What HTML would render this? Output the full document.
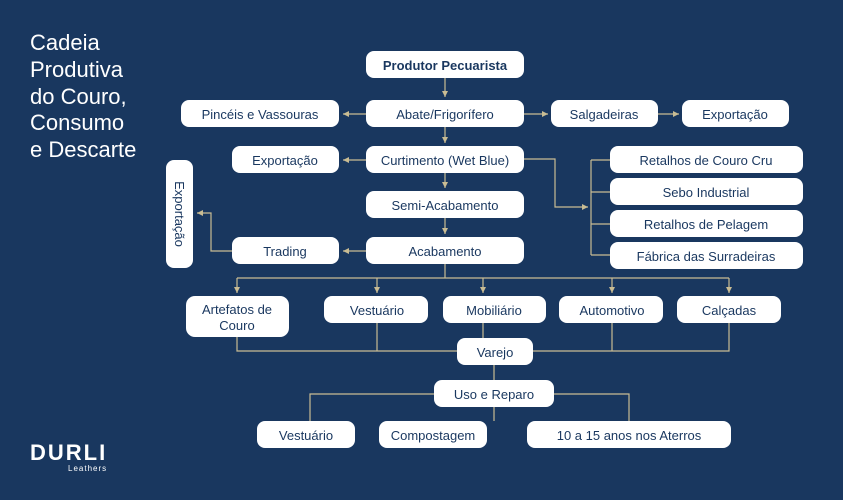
<!DOCTYPE html>
<html><head><meta charset="utf-8"><style>
body{margin:0;width:843px;height:500px;background:#19375f;overflow:hidden}
svg{display:block}
text{font-family:"Liberation Sans",sans-serif;font-size:13px;fill:#19375f;text-anchor:middle}
.t{fill:#fff;text-anchor:start;font-size:22px}
rect{fill:#fff}
.l{stroke:#c9bc93;stroke-width:1.2;fill:none}
</style></head><body>
<svg width="843" height="500" viewBox="0 0 843 500">
<defs><marker id="a" markerWidth="6" markerHeight="6" refX="5" refY="3" orient="auto"><path d="M0,0.5 L5,3 L0,5.5z" fill="#c9bc93"/></marker></defs>
<text class="t" x="30" y="50">Cadeia</text>
<text class="t" x="30" y="77">Produtiva</text>
<text class="t" x="30" y="104">do Couro,</text>
<text class="t" x="30" y="130">Consumo</text>
<text class="t" x="30" y="157">e Descarte</text>
<text x="30" y="460" style="fill:#fff;font-size:22px;font-weight:bold;text-anchor:start;letter-spacing:2px">DURLI</text>
<text x="68" y="471" style="fill:#fff;font-size:8px;text-anchor:start;letter-spacing:1px">Leathers</text>
<g class="l">
<path d="M445 78V97" marker-end="url(#a)"/>
<path d="M366 114H343" marker-end="url(#a)"/>
<path d="M524 114H548" marker-end="url(#a)"/>
<path d="M658 114H679" marker-end="url(#a)"/>
<path d="M445 127V143" marker-end="url(#a)"/>
<path d="M366 160H343" marker-end="url(#a)"/>
<path d="M445 173V188" marker-end="url(#a)"/>
<path d="M524 159H555V207H588" marker-end="url(#a)"/>
<path d="M591 160V255M591 160H610M591 192H610M591 224H610M591 255H610"/>
<path d="M445 218V234" marker-end="url(#a)"/>
<path d="M366 251H343" marker-end="url(#a)"/>
<path d="M232 251H211V213H197" marker-end="url(#a)"/>
<path d="M445 264V278M237 278H729"/>
<path d="M237 278V293" marker-end="url(#a)"/>
<path d="M377 278V293" marker-end="url(#a)"/>
<path d="M483 278V293" marker-end="url(#a)"/>
<path d="M612 278V293" marker-end="url(#a)"/>
<path d="M729 278V293" marker-end="url(#a)"/>
<path d="M237 337V351H729V323M377 323V351M483 323V338M612 323V351"/>
<path d="M494 365V380"/>
<path d="M310 421V394H629V421M494 407V421"/>
</g>
<rect x="366" y="51" width="158" height="27" rx="8"/><text x="445" y="70" font-weight="bold">Produtor Pecuarista</text>
<rect x="181" y="100" width="158" height="27" rx="8"/><text x="260" y="119">Pincéis e Vassouras</text>
<rect x="366" y="100" width="158" height="27" rx="8"/><text x="445" y="119">Abate/Frigorífero</text>
<rect x="551" y="100" width="107" height="27" rx="8"/><text x="604" y="119">Salgadeiras</text>
<rect x="682" y="100" width="107" height="27" rx="8"/><text x="735" y="119">Exportação</text>
<rect x="232" y="146" width="107" height="27" rx="8"/><text x="285" y="165">Exportação</text>
<rect x="366" y="146" width="158" height="27" rx="8"/><text x="445" y="165">Curtimento (Wet Blue)</text>
<rect x="166" y="160" width="27" height="108" rx="8"/><text transform="translate(175,214) rotate(90)" x="0" y="0">Exportação</text>
<rect x="366" y="191" width="158" height="27" rx="8"/><text x="445" y="210">Semi-Acabamento</text>
<rect x="232" y="237" width="107" height="27" rx="8"/><text x="285" y="256">Trading</text>
<rect x="366" y="237" width="158" height="27" rx="8"/><text x="445" y="256">Acabamento</text>
<rect x="610" y="146" width="193" height="27" rx="8"/><text x="706" y="165">Retalhos de Couro Cru</text>
<rect x="610" y="178" width="193" height="27" rx="8"/><text x="706" y="197">Sebo Industrial</text>
<rect x="610" y="210" width="193" height="27" rx="8"/><text x="706" y="229">Retalhos de Pelagem</text>
<rect x="610" y="242" width="193" height="27" rx="8"/><text x="706" y="261">Fábrica das Surradeiras</text>
<rect x="186" y="296" width="103" height="41" rx="9"/><text x="237" y="314">Artefatos de</text><text x="237" y="330">Couro</text>
<rect x="324" y="296" width="104" height="27" rx="8"/><text x="377" y="315">Vestuário</text>
<rect x="443" y="296" width="103" height="27" rx="8"/><text x="494" y="315">Mobiliário</text>
<rect x="559" y="296" width="104" height="27" rx="8"/><text x="612" y="315">Automotivo</text>
<rect x="677" y="296" width="104" height="27" rx="8"/><text x="729" y="315">Calçadas</text>
<rect x="457" y="338" width="76" height="27" rx="8"/><text x="495" y="357">Varejo</text>
<rect x="434" y="380" width="120" height="27" rx="8"/><text x="494" y="399">Uso e Reparo</text>
<rect x="257" y="421" width="98" height="27" rx="8"/><text x="306" y="440">Vestuário</text>
<rect x="379" y="421" width="108" height="27" rx="8"/><text x="433" y="440">Compostagem</text>
<rect x="527" y="421" width="204" height="27" rx="8"/><text x="629" y="440">10 a 15 anos nos Aterros</text>
</svg>
</body></html>
